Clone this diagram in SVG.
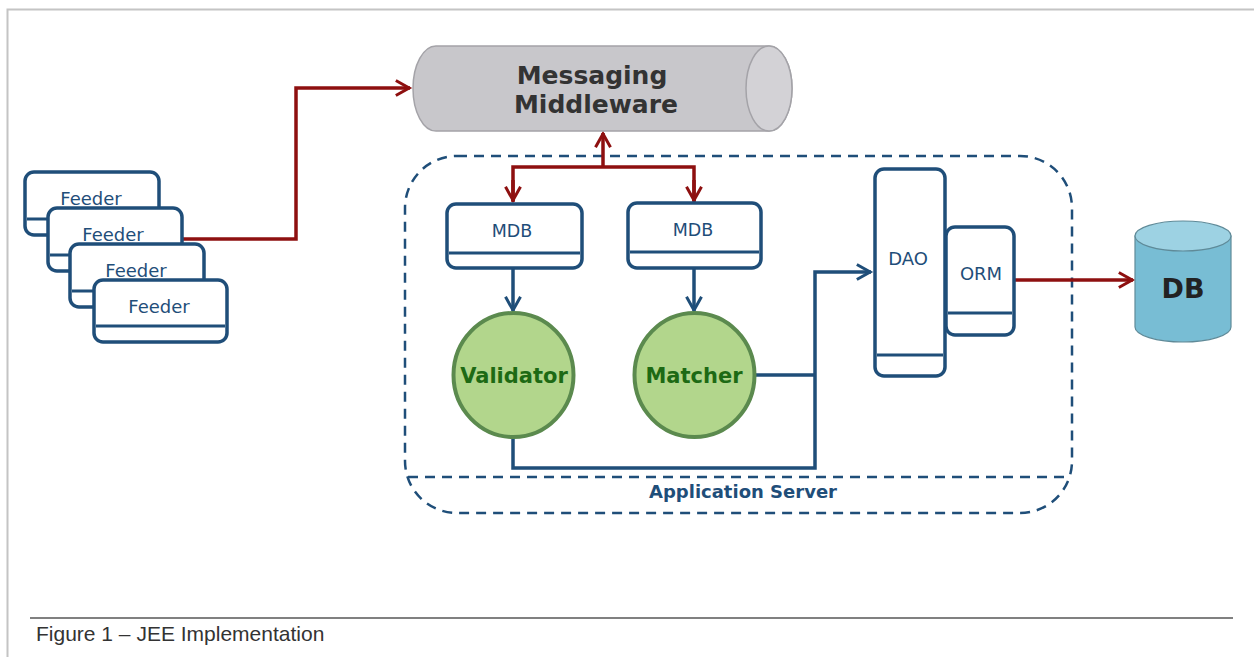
<svg xmlns="http://www.w3.org/2000/svg" width="1254" height="657" viewBox="0 0 1254 657">
  <style>
    .box { fill: #ffffff; stroke: #1f4e79; stroke-width: 3.5; }
    .sep { stroke: #1f4e79; stroke-width: 3; fill: none; }
    .lbl { font-family: "DejaVu Sans", sans-serif; fill: #1f4e79; text-anchor: middle; }
    .blue { fill: none; stroke: #1f4e79; stroke-width: 3.5; }
    .red { fill: none; stroke: #8e1010; stroke-width: 3.5; }
    .comp { fill: #b2d68c; stroke: #5b8a4e; stroke-width: 4; }
    .comp-t { font-family: "DejaVu Sans", sans-serif; font-weight: bold; font-size: 21px; fill: #1d6a14; text-anchor: middle; }
  </style>
  <defs>
    <marker id="arrRedL" viewBox="0 0 12 12" refX="10.5" refY="6" markerWidth="20" markerHeight="20" markerUnits="userSpaceOnUse" orient="auto">
      <path d="M2,1.5 L10,6 L2,10.5" fill="none" stroke="#8e1010" stroke-width="1.8"/>
    </marker>
    <marker id="arrBlue" viewBox="0 0 12 12" refX="10.5" refY="6" markerWidth="20" markerHeight="20" markerUnits="userSpaceOnUse" orient="auto">
      <path d="M2,1.5 L10,6 L2,10.5" fill="none" stroke="#1f4e79" stroke-width="1.8"/>
    </marker>
  </defs>

  <!-- page frame -->
  <rect x="0" y="0" width="1254" height="657" fill="#ffffff"/>
  <path d="M7.5,670 L7.5,9.5 L1254,9.5" fill="none" stroke="#c4c4c4" stroke-width="2"/>

  <!-- application server boundary -->
  <g id="app-server">
    <rect x="405" y="156" width="667" height="357" rx="52" ry="52" fill="none" stroke="#1f4e79" stroke-width="2.5" stroke-dasharray="10 7"/>
    <line x1="408" y1="477" x2="1069" y2="477" stroke="#1f4e79" stroke-width="2.5" stroke-dasharray="10 7"/>
    <text x="743" y="498" class="lbl" font-size="18" font-weight="bold">Application Server</text>
  </g>

  <!-- connectors -->
  <g id="connectors">
    <polyline class="red" points="182,239 296,239 296,88 410,88" marker-end="url(#arrRedL)"/>
    <polyline class="red" points="603,167 603,133" marker-end="url(#arrRedL)"/>
    <polyline class="red" points="513,202 513,167 694,167 694,202"/>
    <line class="red" x1="513" y1="180" x2="513" y2="201" marker-end="url(#arrRedL)"/>
    <line class="red" x1="694" y1="180" x2="694" y2="201" marker-end="url(#arrRedL)"/>
    <line class="blue" x1="513" y1="268" x2="513" y2="311" marker-end="url(#arrBlue)"/>
    <line class="blue" x1="694" y1="268" x2="694" y2="311" marker-end="url(#arrBlue)"/>
    <polyline class="blue" points="513,437 513,468 815,468 815,272 871,272" marker-end="url(#arrBlue)"/>
    <line class="blue" x1="755" y1="375" x2="815" y2="375"/>
    <line class="red" x1="1014" y1="280" x2="1133" y2="280" marker-end="url(#arrRedL)"/>
  </g>

  <!-- feeders -->
  <g id="feeder-1">
    <rect class="box" x="25" y="172" width="134" height="63" rx="9"/>
    <line class="sep" x1="27" y1="219" x2="157" y2="219"/>
    <text x="91" y="205" class="lbl" font-size="18">Feeder</text>
  </g>
  <g id="feeder-2">
    <rect class="box" x="48" y="208" width="134" height="63" rx="9"/>
    <line class="sep" x1="50" y1="255" x2="180" y2="255"/>
    <text x="113" y="241" class="lbl" font-size="18">Feeder</text>
  </g>
  <g id="feeder-3">
    <rect class="box" x="70" y="244" width="134" height="63" rx="9"/>
    <line class="sep" x1="72" y1="291" x2="202" y2="291"/>
    <text x="136" y="277" class="lbl" font-size="18">Feeder</text>
  </g>
  <g id="feeder-4">
    <rect class="box" x="94" y="280" width="133" height="62" rx="9"/>
    <line class="sep" x1="96" y1="326" x2="225" y2="326"/>
    <text x="159" y="313" class="lbl" font-size="18">Feeder</text>
  </g>

  <!-- messaging middleware cylinder -->
  <g id="middleware">
    <path d="M436,46 L769,46 A23,42.5 0 0 1 769,131 L436,131 A23,42.5 0 0 1 436,46 Z" fill="#c8c7cb" stroke="#a4a3a8" stroke-width="1.5"/>
    <ellipse cx="769" cy="88.5" rx="23" ry="42.5" fill="#d3d2d6" stroke="#a4a3a8" stroke-width="1.5"/>
    <text x="592" y="84" font-family="DejaVu Sans, sans-serif" font-weight="bold" font-size="25" fill="#333333" text-anchor="middle">Messaging</text>
    <text x="596" y="113" font-family="DejaVu Sans, sans-serif" font-weight="bold" font-size="25" fill="#333333" text-anchor="middle">Middleware</text>
  </g>

  <!-- message driven beans -->
  <g id="mdb-1">
    <rect class="box" x="447" y="204" width="135" height="64" rx="9"/>
    <line class="sep" x1="449" y1="253" x2="580" y2="253"/>
    <text x="512" y="237" class="lbl" font-size="17.5">MDB</text>
  </g>
  <g id="mdb-2">
    <rect class="box" x="628" y="203" width="133" height="65" rx="9"/>
    <line class="sep" x1="630" y1="252" x2="759" y2="252"/>
    <text x="693" y="236" class="lbl" font-size="17.5">MDB</text>
  </g>

  <!-- processing components -->
  <g id="validator">
    <ellipse class="comp" cx="513.5" cy="375" rx="60" ry="62"/>
    <text x="514" y="383" class="comp-t">Validator</text>
  </g>
  <g id="matcher">
    <ellipse class="comp" cx="694.5" cy="375" rx="60" ry="62"/>
    <text x="694" y="383" class="comp-t">Matcher</text>
  </g>

  <!-- persistence -->
  <g id="dao">
    <rect class="box" x="875" y="169" width="70" height="207" rx="9"/>
    <line class="sep" x1="877" y1="355" x2="943" y2="355"/>
    <text x="908" y="265" class="lbl" font-size="18">DAO</text>
  </g>
  <g id="orm">
    <rect class="box" x="946" y="227" width="68" height="108" rx="9"/>
    <line class="sep" x1="948" y1="313" x2="1012" y2="313"/>
    <text x="981" y="280" class="lbl" font-size="18">ORM</text>
  </g>

  <!-- database -->
  <g id="db">
    <path d="M1135,236 L1135,327 A48,15 0 0 0 1231,327 L1231,236 Z" fill="#78bdd4" stroke="#5f8a98" stroke-width="1.2"/>
    <ellipse cx="1183" cy="236" rx="48" ry="15" fill="#9dd2e3" stroke="#5f8a98" stroke-width="1.2"/>
    <text x="1183" y="298" font-family="DejaVu Sans, sans-serif" font-weight="bold" font-size="27" fill="#222222" text-anchor="middle">DB</text>
  </g>

  <!-- caption -->
  <line x1="30" y1="618" x2="1233" y2="618" stroke="#808080" stroke-width="2"/>
  <text x="36" y="641" font-family="Liberation Sans, Arial, sans-serif" font-size="21" fill="#333333">Figure 1 – JEE Implementation</text>
</svg>
